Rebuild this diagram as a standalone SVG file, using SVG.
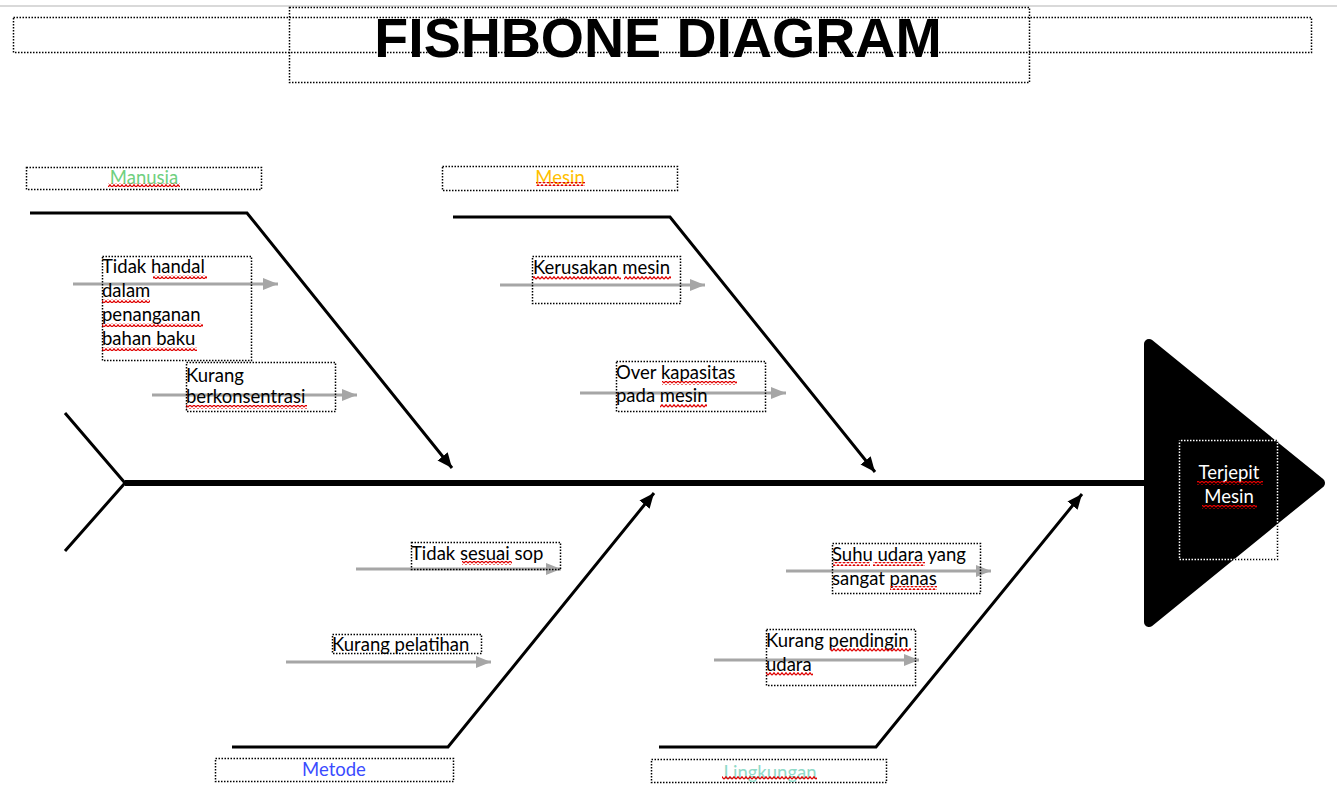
<svg xmlns="http://www.w3.org/2000/svg" width="1337" height="785" viewBox="0 0 1337 785">
<style>
.box{fill:none;stroke:#000;stroke-width:1.5;stroke-dasharray:1.5 1.5}
.bone{fill:none;stroke:#000;stroke-width:3}
.sub{fill:none;stroke:#a6a6a6;stroke-width:3}
.t{font-family:Lato,"Liberation Sans",sans-serif;font-size:18.5px;fill:#000}
.cat{font-family:Lato,"Liberation Sans",sans-serif;font-size:18.5px;text-anchor:middle}
.sq{fill:url(#squig)}
</style>
<defs>
<pattern id="squig" width="4" height="4" patternUnits="userSpaceOnUse">
<path d="M0,3.2 L2,0.8 L4,3.2" fill="none" stroke="#e00000" stroke-width="1.3"/>
</pattern>
<marker id="ab" markerUnits="userSpaceOnUse" markerWidth="16" markerHeight="14" refX="15" refY="7" orient="auto">
<path d="M0,0.5 L15,7 L0,13.5 z" fill="#000"/>
</marker>
<marker id="ag" markerUnits="userSpaceOnUse" markerWidth="16" markerHeight="14" refX="15" refY="7" orient="auto">
<path d="M0,1 L15,7 L0,13 z" fill="#a6a6a6"/>
</marker>
</defs>
<rect width="1337" height="785" fill="#fff"/>
<line x1="0" y1="6" x2="1337" y2="6" stroke="#d9d9d9" stroke-width="2"/>

<g id="title">
<rect class="box" x="13.5" y="17.5" width="1298" height="35"/>
<rect class="box" x="289.5" y="7.5" width="740" height="75"/>
<text x="658" y="57" text-anchor="middle" font-family="'Liberation Sans',Arial,sans-serif" font-weight="bold" font-size="55.5">FISHBONE DIAGRAM</text>
</g>

<g id="connectors">
<line x1="125" y1="483" x2="1147" y2="483" stroke="#000" stroke-width="6"/>
<polyline points="65,413 125,483 65,551" fill="none" stroke="#000" stroke-width="3"/>
<polyline class="bone" points="30,213 247,213 452,468" marker-end="url(#ab)"/>
<polyline class="bone" points="453,217 670,217 875,472" marker-end="url(#ab)"/>
<polyline class="bone" points="232,747 448,747 654,493" marker-end="url(#ab)"/>
<polyline class="bone" points="659,747 876,747 1082,494" marker-end="url(#ab)"/>
<line class="sub" x1="73" y1="284" x2="278" y2="284" marker-end="url(#ag)"/>
<line class="sub" x1="152" y1="395" x2="357" y2="395" marker-end="url(#ag)"/>
<line class="sub" x1="500" y1="285" x2="705" y2="285" marker-end="url(#ag)"/>
<line class="sub" x1="580" y1="393" x2="786" y2="393" marker-end="url(#ag)"/>
<line class="sub" x1="356" y1="569" x2="561" y2="569" marker-end="url(#ag)"/>
<line class="sub" x1="286" y1="662" x2="491" y2="662" marker-end="url(#ag)"/>
<line class="sub" x1="786" y1="571" x2="991" y2="571" marker-end="url(#ag)"/>
<line class="sub" x1="714" y1="660" x2="919" y2="660" marker-end="url(#ag)"/>
</g>

<g id="head">
<polygon points="1149,344 1320,483 1149,622" fill="#000" stroke="#000" stroke-width="10" stroke-linejoin="round"/>
<rect x="1179.5" y="440.5" width="98" height="119" fill="none" stroke="#000" stroke-width="1.5" stroke-dasharray="1.5 1.5"/>
<rect x="1179.5" y="440.5" width="98" height="119" fill="none" stroke="#fff" stroke-width="1.5" stroke-dasharray="1.5 1.5" stroke-dashoffset="1.5"/>
<text class="cat" x="1229" y="479" fill="#fff">Terjepit</text>
<text class="cat" x="1229" y="503" fill="#fff">Mesin</text>
<rect class="sq" x="1197" y="481" width="66" height="4"/>
<rect class="sq" x="1202" y="505" width="55" height="4"/>
</g>

<g id="cat-manusia">
<rect class="box" x="26.5" y="167.5" width="235" height="22"/>
<text class="cat" x="144" y="184" fill="#6fd07f">Manusia</text>
<rect class="sq" x="108" y="183" width="72" height="4"/>
</g>
<g id="cat-mesin">
<rect class="box" x="442.5" y="166.5" width="235" height="24"/>
<text class="cat" x="560" y="184" fill="#ffc000">Mesin</text>
<rect class="sq" x="536" y="182" width="49" height="4"/>
</g>
<g id="cat-metode">
<rect class="box" x="215.5" y="758.5" width="238" height="23"/>
<text class="cat" x="334" y="776" fill="#3a4bff">Metode</text>
</g>
<g id="cat-lingkungan">
<rect class="box" x="651.5" y="759.5" width="235" height="23"/>
<text class="cat" x="770" y="779" fill="#8fdac8">Lingkungan</text>
<rect class="sq" x="722" y="776" width="95" height="4"/>
</g>

<g id="c-tidak-handal">
<rect class="box" x="102.5" y="256.5" width="149" height="104"/>
<text class="t" x="102" y="273">Tidak handal</text>
<text class="t" x="102" y="297">dalam</text>
<text class="t" x="102" y="321">penanganan</text>
<text class="t" x="102" y="345">bahan baku</text>
<rect class="sq" x="153" y="275" width="54" height="4"/>
<rect class="sq" x="102" y="299" width="48" height="4"/>
<rect class="sq" x="102" y="323" width="101" height="4"/>
<rect class="sq" x="102" y="347" width="95" height="4"/>
</g>
<g id="c-kurang-konsentrasi">
<rect class="box" x="186.5" y="362.5" width="149" height="49"/>
<text class="t" x="186" y="382">Kurang</text>
<text class="t" x="186" y="403">berkonsentrasi</text>
<rect class="sq" x="186" y="405" width="121" height="4"/>
</g>
<g id="c-kerusakan">
<rect class="box" x="532.5" y="256.5" width="148" height="47"/>
<text class="t" x="533" y="274">Kerusakan mesin</text>
<rect class="sq" x="533" y="276" width="88" height="4"/>
<rect class="sq" x="624" y="276" width="47" height="4"/>
</g>
<g id="c-over">
<rect class="box" x="616.5" y="361.5" width="149" height="50"/>
<text class="t" x="616" y="379">Over kapasitas</text>
<text class="t" x="616" y="402">pada mesin</text>
<rect class="sq" x="662" y="381" width="75" height="4"/>
<rect class="sq" x="660" y="404" width="47" height="4"/>
</g>
<g id="c-sop">
<rect class="box" x="411.5" y="542.5" width="149" height="27"/>
<text class="t" x="411" y="560">Tidak sesuai sop</text>
<rect class="sq" x="462" y="561" width="50" height="4"/>
</g>
<g id="c-pelatihan">
<rect class="box" x="332.5" y="634.5" width="149" height="19"/>
<text class="t" x="332" y="651">Kurang pelatihan</text>
</g>
<g id="c-suhu">
<rect class="box" x="832.5" y="543.5" width="148" height="50"/>
<text class="t" x="832" y="561">Suhu udara yang</text>
<text class="t" x="832" y="585">sangat panas</text>
<rect class="sq" x="833" y="562" width="37" height="4"/>
<rect class="sq" x="873" y="562" width="52" height="4"/>
<rect class="sq" x="890" y="586" width="47" height="4"/>
</g>
<g id="c-pendingin">
<rect class="box" x="766.5" y="629.5" width="149" height="56"/>
<text class="t" x="766" y="647">Kurang pendingin</text>
<text class="t" x="766" y="671">udara</text>
<rect class="sq" x="830" y="648" width="81" height="4"/>
<rect class="sq" x="766" y="672" width="47" height="4"/>
</g>
</svg>
